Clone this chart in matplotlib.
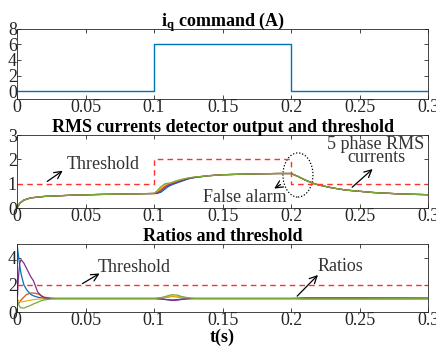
import matplotlib
matplotlib.use("Agg")
import matplotlib.pyplot as plt
from matplotlib.patches import Ellipse

# ---- data ----
cmd_t = [0, 0.1, 0.1, 0.2, 0.2, 0.3]
cmd_iq = [0, 0, 6, 6, 0, 0]

thr_t = [0, 0.1, 0.1, 0.2, 0.2, 0.3]
thr_rms = [1, 1, 2, 2, 1, 1]

rms_t = [0, 0.002, 0.005, 0.01, 0.02, 0.04, 0.06, 0.08, 0.1,
         0.102, 0.105, 0.108, 0.11, 0.112, 0.115, 0.12, 0.125, 0.13,
         0.14, 0.15, 0.17, 0.19, 0.2, 0.205, 0.21, 0.215, 0.22, 0.23,
         0.24, 0.26, 0.28, 0.3]
_head = [0, 0.2, 0.33, 0.42, 0.48, 0.53, 0.56, 0.58, 0.6]
_tail = [1.33, 1.37, 1.4, 1.42, 1.42, 1.3, 1.16, 1.04, 0.95, 0.83,
         0.74, 0.64, 0.58, 0.55]
rms_a = _head + [0.6, 0.65, 0.78, 0.87, 0.93, 1.0, 1.1, 1.2, 1.26] + _tail
rms_b = _head + [0.63, 0.76, 0.9, 0.97, 1.0, 1.05, 1.14, 1.22, 1.27] + _tail
rms_c = _head + [0.66, 0.82, 0.96, 1.0, 1.02, 1.08, 1.16, 1.23, 1.27] + _tail
rms_d = _head + [0.61, 0.7, 0.84, 0.92, 0.97, 1.02, 1.12, 1.21, 1.26] + _tail
rms_e = _head + [0.7, 0.88, 1.0, 1.02, 1.03, 1.1, 1.18, 1.24, 1.28] + _tail

ratio_t = [0, 0.001, 0.002, 0.003, 0.005, 0.007, 0.01, 0.012, 0.015,
           0.018, 0.02, 0.025, 0.03, 0.05, 0.1, 0.105, 0.11, 0.113,
           0.117, 0.12, 0.125, 0.13, 0.2, 0.21, 0.25, 0.3]
ratio_a = [5.0, 4.2, 3.4, 2.8, 2.0, 1.65, 1.3, 1.2, 1.1, 1.04, 1.0, 1.0, 1.0,
           1.0, 1.0, 0.97, 0.92, 0.9, 0.92, 0.96, 0.99, 1.0, 1.0, 1.03, 1.03, 1.02]
ratio_b = [0.7, 0.6, 0.75, 0.9, 1.1, 1.3, 1.4, 1.4, 1.35, 1.2, 1.1, 1.02, 1.0,
           1.0, 1.0, 1.03, 1.1, 1.15, 1.12, 1.07, 1.02, 1.0, 1.0, 0.96, 0.96, 0.97]
ratio_c = [1.0, 0.85, 0.78, 0.75, 0.78, 0.82, 0.88, 0.92, 0.95, 0.97, 0.98, 1.0,
           1.0, 1.0, 1.0, 1.04, 1.12, 1.18, 1.15, 1.08, 1.02, 1.0, 1.0, 0.95, 0.95, 0.96]
ratio_d = [0.5, 2.5, 3.6, 3.85, 3.6, 3.2, 2.6, 2.3, 1.5, 1.15, 1.05, 1.0, 1.0,
           1.0, 1.0, 0.97, 0.9, 0.86, 0.88, 0.93, 0.98, 1.0, 1.0, 1.04, 1.04, 1.03]
ratio_e = [1.0, 0.6, 0.4, 0.32, 0.3, 0.38, 0.5, 0.6, 0.72, 0.85, 0.9, 0.97, 1.0,
           1.0, 1.0, 1.06, 1.2, 1.28, 1.25, 1.15, 1.05, 1.0, 1.0, 0.98, 0.98, 0.99]
thr_ratio = 2

colors = ["#0072BD", "#D95319", "#EDB120", "#7E2F8E", "#77AC30"]
xticks = [0, 0.05, 0.1, 0.15, 0.2, 0.25, 0.3]
xticklabels = ["0", "0.05", "0.1", "0.15", "0.2", "0.25", "0.3"]

plt.rcParams["font.family"] = ["Liberation Serif", "DejaVu Serif"]
plt.rcParams["mathtext.fontset"] = "custom"
plt.rcParams["mathtext.rm"] = "Liberation Serif"
plt.rcParams["mathtext.bf"] = "Liberation Serif:bold"

FS = 13
TXT = "#333333"

fig = plt.figure(figsize=(4.36, 3.48), dpi=100)
axes = [fig.add_axes([0.039, 0.716, 0.943, 0.201]),
        fig.add_axes([0.039, 0.402, 0.943, 0.210]),
        fig.add_axes([0.039, 0.103, 0.943, 0.196])]

for ax in axes:
    ax.set_xlim(0, 0.3)
    ax.set_xticks(xticks)
    ax.set_xticklabels(xticklabels)
    ax.tick_params(direction="in", top=True, right=True, length=3,
                   width=0.6, labelsize=FS, colors="#262626", pad=0)
    for s in ax.spines.values():
        s.set_color("#262626")
        s.set_linewidth(0.6)

arrow = dict(arrowstyle="->", color="black", lw=0.9, mutation_scale=13)

# top: iq command
ax = axes[0]
ax.plot(cmd_t, cmd_iq, color=colors[0], lw=1.0)
ax.set_ylim(-1, 8)
ax.set_yticks([0, 2, 4, 6, 8])
ax.set_title(r"$\mathbf{i_q}$ command (A)", fontsize=13, fontweight="bold", pad=2)

# middle: RMS detector
ax = axes[1]
for vals, c in zip([rms_a, rms_b, rms_c, rms_d, rms_e], colors):
    ax.plot(rms_t, vals, color=c, lw=0.9)
ax.plot(thr_t, thr_rms, color="#FF3030", lw=1.0, ls=(0, (4, 3)))
ax.set_ylim(0, 3)
ax.set_yticks([0, 1, 2, 3])
ax.set_title("RMS currents detector output and threshold", fontsize=13,
             fontweight="bold", pad=2)
ax.text(0.0365, 1.77, "Threshold", fontsize=FS, color=TXT, va="center")
ax.annotate("", xy=(0.035, 1.6), xytext=(0.0204, 1.03), arrowprops=arrow)
ax.text(0.262, 2.35, "5 phase RMS\ncurrents", fontsize=FS, color=TXT,
        ha="center", va="center", linespacing=0.72)
ax.annotate("", xy=(0.261, 1.68), xytext=(0.243, 0.78), arrowprops=arrow)
ax.text(0.1358, 0.45, "False alarm", fontsize=FS, color=TXT, va="center")
ax.annotate("", xy=(0.186, 0.74), xytext=(0.194, 1.03), arrowprops=arrow)
ax.add_patch(Ellipse((0.205, 1.36), 0.0219, 1.81, fill=False, color="black",
                     ls=(0, (1, 1.5)), lw=0.9))

# bottom: ratios
ax = axes[2]
for vals, c in zip([ratio_a, ratio_b, ratio_c, ratio_d, ratio_e], colors):
    ax.plot(ratio_t, vals, color=c, lw=0.9)
ax.axhline(thr_ratio, color="#FF3030", lw=1.0, ls=(0, (4, 3)))
ax.set_ylim(0, 5)
ax.set_yticks([0, 2, 4])
ax.set_title("Ratios and threshold", fontsize=13, fontweight="bold", pad=2)
ax.text(0.059, 3.24, "Threshold", fontsize=FS, color=TXT, va="center")
ax.annotate("", xy=(0.062, 2.94), xytext=(0.046, 1.99), arrowprops=arrow)
ax.text(0.219, 3.38, "Ratios", fontsize=FS, color=TXT, va="center")
ax.annotate("", xy=(0.221, 2.87), xytext=(0.203, 1.03), arrowprops=arrow)
ax.set_xlabel("t(s)", fontsize=13, fontweight="bold", labelpad=0)

fig.savefig("out.png", dpi=100)
